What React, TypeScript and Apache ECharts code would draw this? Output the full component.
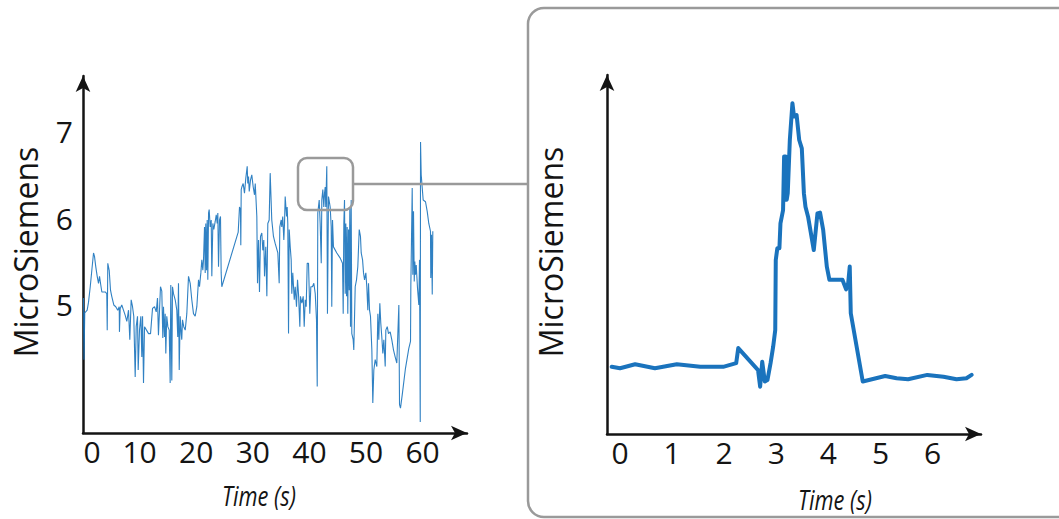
import React, { useEffect, useRef } from "react";
import * as echarts from "echarts";

// Overview trace (seconds, microsiemens)
const overviewTime = [
  0.09, 0.18, 0.31, 0.74, 0.97, 1.28, 1.56, 1.86, 2.03, 2.26, 2.51, 2.74, 2.92, 3.14, 3.33, 3.92, 4.2, 4.28, 4.38, 4.63,
  4.86, 5.08, 5.44, 5.79, 6.14, 6.4, 6.44, 6.57, 6.85, 7.15, 7.46, 7.74, 8.04, 8.27, 8.51, 8.75, 8.97, 9.22, 9.4, 9.63,
  9.75, 9.98, 10.22, 10.39, 10.52, 10.69, 10.87, 11.22, 11.58, 11.93, 12.28, 12.64, 12.94, 13.16, 13.33, 13.69, 13.92, 14.1, 14.22, 14.4,
  14.52, 14.63, 14.8, 14.99, 15.23, 15.4, 15.51, 15.69, 15.81, 15.99, 16.29, 16.57, 16.74, 16.87, 17.0, 17.17, 17.35, 17.45, 17.58, 17.8,
  18.06, 18.34, 18.64, 18.94, 19.22, 19.52, 19.82, 20.11, 20.41, 20.58, 20.82, 20.99, 21.17, 21.29, 21.47, 21.59, 21.69, 21.82, 21.94, 22.05,
  22.18, 22.29, 22.47, 22.65, 22.76, 22.94, 23.11, 23.35, 23.54, 23.71, 23.82, 23.94, 24.12, 24.29, 24.41, 24.52, 27.42, 27.65, 27.82, 27.88,
  27.95, 28.06, 28.3, 28.53, 28.76, 29.01, 29.11, 29.24, 29.37, 29.59, 29.82, 30.07, 30.3, 30.43, 30.71, 30.83, 31.01, 31.18, 31.36, 31.59,
  31.77, 31.94, 32.07, 32.29, 32.48, 32.65, 32.89, 33.07, 33.35, 33.65, 33.95, 34.42, 34.66, 34.77, 35.01, 35.12, 35.29, 35.48, 35.6, 35.72,
  35.96, 36.07, 36.18, 36.31, 36.43, 36.61, 36.78, 36.89, 37.06, 37.32, 37.49, 37.72, 37.9, 38.07, 38.31, 38.42, 38.66, 38.9, 39.08, 39.26,
  39.43, 39.61, 39.84, 40.07, 40.25, 40.54, 40.78, 41.03, 41.25, 41.38, 41.48, 41.73, 41.9, 42.09, 42.19, 42.37, 42.54, 42.67, 42.79, 42.89,
  43.07, 43.19, 43.37, 43.67, 43.85, 43.95, 44.08, 44.25, 44.84, 45.44, 45.85, 45.97, 46.08, 46.2, 46.32, 46.43, 46.56, 46.67, 46.78, 46.91,
  47.03, 47.14, 47.26, 47.38, 47.49, 47.73, 47.84, 48.09, 48.32, 48.55, 48.8, 49.02, 49.15, 49.39, 49.56, 49.74, 49.97, 50.14, 50.32, 50.44,
  50.62, 50.79, 51.03, 51.2, 51.38, 51.62, 51.91, 52.09, 52.26, 52.44, 52.61, 52.79, 52.97, 53.15, 53.39, 53.5, 53.75, 53.97, 54.27, 54.55,
  54.86, 55.16, 55.44, 55.8, 55.92, 56.09, 56.39, 56.97, 57.56, 57.86, 57.92, 58.03, 58.16, 58.27, 58.39, 58.52, 58.62, 58.74, 58.87, 59.1,
  59.33, 59.45, 59.58, 59.63, 59.75, 60.1, 60.51, 60.81, 61.09, 61.39, 61.44, 61.57, 61.7, 61.8,
];
const overviewValue = [
  5.08, 4.37, 4.91, 4.94, 5.03, 5.21, 5.4, 5.6, 5.56, 5.44, 5.33, 5.25, 5.33, 5.23, 5.15, 5.15, 5.13, 4.71, 5.48, 5.4,
  5.17, 5.1, 5.0, 4.98, 4.94, 4.98, 4.69, 4.96, 5.0, 4.94, 4.88, 4.81, 4.94, 4.6, 5.06, 4.98, 4.87, 4.17, 4.75, 4.87,
  4.25, 4.71, 4.87, 4.4, 4.87, 4.1, 4.75, 4.71, 4.67, 4.67, 4.96, 4.98, 4.92, 5.08, 4.65, 5.21, 5.16, 4.62, 4.98, 4.63,
  4.9, 4.44, 4.87, 4.75, 4.71, 4.1, 5.23, 4.13, 5.21, 5.13, 5.06, 4.94, 4.63, 5.25, 4.25, 4.87, 4.67, 4.6, 4.83, 4.75,
  4.71, 4.9, 5.33, 5.25, 5.06, 4.9, 4.87, 4.98, 5.29, 5.21, 5.37, 5.52, 5.4, 5.52, 5.9, 5.37, 5.94, 5.4, 5.98, 5.29,
  6.06, 6.1, 5.9, 5.98, 5.33, 5.94, 5.87, 5.96, 6.04, 5.94, 6.06, 5.44, 5.98, 6.02, 5.37, 5.21, 5.84, 6.13, 6.09, 5.69,
  6.33, 6.36, 6.4, 6.29, 6.46, 6.6, 6.4, 6.48, 6.31, 6.44, 6.5, 6.36, 6.27, 6.4, 6.02, 5.25, 5.75, 5.15, 5.79, 5.83,
  5.63, 5.75, 5.33, 5.67, 5.1, 5.94, 5.98, 6.52, 5.98, 5.79, 5.71, 5.6, 5.25, 5.9, 5.98, 5.9, 6.02, 5.75, 5.94, 6.25,
  6.02, 6.13, 5.94, 4.67, 5.87, 5.67, 5.52, 5.13, 5.37, 5.06, 5.21, 4.98, 5.29, 5.13, 4.75, 5.1, 5.02, 5.1, 4.75, 5.06,
  4.98, 5.48, 5.48, 4.9, 5.21, 5.21, 5.25, 5.13, 4.83, 4.06, 6.06, 6.21, 5.94, 5.48, 6.21, 6.33, 6.13, 6.29, 6.36, 6.13,
  6.6, 4.9, 6.25, 6.13, 5.9, 4.98, 5.98, 5.67, 5.6, 5.54, 5.48, 4.9, 5.94, 6.21, 5.13, 5.94, 5.1, 5.9, 4.9, 5.87,
  5.17, 6.13, 4.75, 6.21, 4.67, 4.6, 4.48, 5.21, 5.29, 5.44, 5.87, 5.79, 5.6, 5.52, 5.37, 5.29, 5.37, 5.21, 4.94, 5.25,
  4.94, 4.87, 4.48, 3.87, 4.25, 4.37, 4.29, 4.9, 4.6, 5.02, 4.79, 4.63, 4.44, 4.6, 4.29, 4.71, 4.75, 4.67, 4.69, 4.6,
  4.48, 4.4, 4.33, 5.0, 3.85, 3.81, 3.96, 4.27, 4.5, 4.58, 5.23, 5.73, 6.35, 5.35, 6.08, 5.27, 5.5, 5.35, 5.46, 5.19,
  5.0, 5.52, 3.65, 6.88, 6.5, 6.21, 6.19, 6.08, 5.94, 5.85, 5.31, 5.81, 5.12, 5.85,
];

// Zoomed trace (seconds, relative level)
const detailTime = [
  -0.16, 0.0, 0.29, 0.67, 1.09, 1.54, 1.98, 2.23, 2.27, 2.65, 2.69, 2.73, 2.78, 2.83, 2.89, 2.94, 2.98, 2.99, 3.02, 3.06,
  3.08, 3.13, 3.15, 3.17, 3.18, 3.2, 3.22, 3.26, 3.31, 3.34, 3.39, 3.44, 3.49, 3.53, 3.56, 3.61, 3.72, 3.79, 3.84, 3.9,
  3.97, 4.02, 4.27, 4.34, 4.38, 4.41, 4.43, 4.66, 5.09, 5.31, 5.53, 5.9, 6.21, 6.46, 6.65, 6.75,
];
const detailValue = [
  1.83, 1.79, 1.9, 1.79, 1.9, 1.83, 1.83, 1.93, 2.34, 1.74, 1.29, 1.97, 1.43, 1.47, 1.93, 2.38, 2.83, 4.74, 5.06, 5.06,
  5.74, 6.1, 7.56, 6.38, 7.56, 6.38, 6.56, 8.01, 9.01, 8.65, 8.69, 8.01, 7.78, 6.56, 6.19, 5.92, 5.01, 6.01, 6.03, 5.56,
  4.56, 4.2, 4.2, 3.94, 4.11, 4.56, 3.29, 1.43, 1.58, 1.52, 1.49, 1.61, 1.56, 1.49, 1.52, 1.61,
];

const overviewTicks = [0, 10, 20, 30, 40, 50, 60];
const overviewYTicks = [5, 6, 7];
const detailTicks = [0, 1, 2, 3, 4, 5, 6];

const LINE = "#1a73bd";
const INK = "#141414";
const GRAY = "#9a9a9a";
const NUM_FONT = "'Open Sans', 'Noto Sans', sans-serif";

export default function App() {
  const ref = useRef<HTMLDivElement>(null);

  useEffect(() => {
    if (!ref.current) return;
    const chart = echarts.init(ref.current, null, { renderer: "svg" });

    const axisLine = {
      show: true,
      onZero: false,
      symbol: ["none", "arrow"],
      symbolSize: [11, 16],
      lineStyle: { color: INK, width: 2.5 },
    };
    const numLabel = {
      color: INK,
      fontSize: 30,
      fontFamily: NUM_FONT,
    };

    const nameText = (x: number, y: number) => ({
      type: "text",
      x,
      y,
      scaleX: 0.78,
      style: {
        text: "Time (s)",
        fill: INK,
        font: `italic 500 28px ${NUM_FONT}`,
        align: "center",
        verticalAlign: "middle",
      },
    });
    const yName = (x: number, y: number) => ({
      type: "text",
      x,
      y,
      rotation: Math.PI / 2,
      style: {
        text: "MicroSiemens",
        fill: INK,
        font: `32px ${NUM_FONT}`,
        align: "center",
        verticalAlign: "middle",
      },
    });

    chart.setOption({
      animation: false,
      backgroundColor: "#ffffff",
      grid: [
        { left: 83, top: 76, right: 592, bottom: 86, containLabel: false },
        { left: 607, top: 75, right: 78, bottom: 85, containLabel: false },
      ],
      xAxis: [
        {
          type: "value",
          gridIndex: 0,
          min: 0,
          max: 67.84,
          axisLine,
          axisTick: { show: false },
          splitLine: { show: false },
          axisLabel: {
            ...numLabel,
            margin: 3,
            customValues: overviewTicks,
            formatter: (v: number) => (v === 0 ? "{first|0}" : String(v)),
            rich: {
              first: { ...numLabel, padding: [0, 0, 0, 18] },
            },
          },
        },
        {
          type: "value",
          gridIndex: 1,
          min: -0.25,
          max: 6.93,
          axisLine,
          axisTick: { show: false },
          splitLine: { show: false },
          axisLabel: { ...numLabel, margin: 3, customValues: detailTicks },
        },
      ],
      yAxis: [
        {
          type: "value",
          gridIndex: 0,
          min: 3.524,
          max: 7.64,
          axisLine,
          axisTick: { show: false },
          splitLine: { show: false },
          axisLabel: { ...numLabel, margin: 10, customValues: overviewYTicks },
        },
        {
          type: "value",
          gridIndex: 1,
          min: 0,
          max: 9.78,
          axisLine,
          axisTick: { show: false },
          splitLine: { show: false },
          axisLabel: { show: false },
        },
      ],
      series: [
        {
          type: "line",
          xAxisIndex: 0,
          yAxisIndex: 0,
          showSymbol: false,
          data: overviewTime.map((t, i) => [t, overviewValue[i]]),
          lineStyle: { color: LINE, width: 1.1, opacity: 0.9 },
        },
        {
          type: "line",
          xAxisIndex: 1,
          yAxisIndex: 1,
          showSymbol: false,
          data: detailTime.map((t, i) => [t, detailValue[i]]),
          lineStyle: { color: LINE, width: 4, join: "round", cap: "round" },
        },
      ],
      graphic: [
        {
          type: "rect",
          shape: { x: 528, y: 8, width: 620, height: 509, r: 16 },
          style: { fill: "none", stroke: GRAY, lineWidth: 2.5 },
          z: 0,
        },
        {
          type: "rect",
          shape: { x: 298, y: 158, width: 55, height: 52, r: 9 },
          style: { fill: "none", stroke: GRAY, lineWidth: 2.5 },
          z: 10,
        },
        {
          type: "line",
          shape: { x1: 353, y1: 184, x2: 528, y2: 184 },
          style: { stroke: GRAY, lineWidth: 2.5 },
          z: 10,
        },
        yName(25, 252),
        yName(550, 252),
        nameText(259, 495),
        nameText(835, 499),
      ],
    });

    return () => chart.dispose();
  }, []);

  return (
    <div
      ref={ref}
      style={{ position: "absolute", left: 0, top: 0, width: 1059, height: 519 }}
    />
  );
}
